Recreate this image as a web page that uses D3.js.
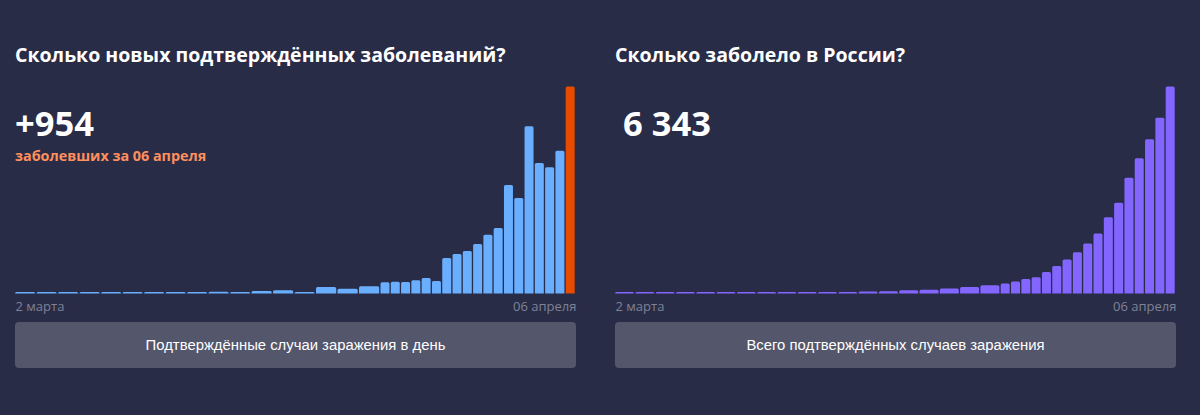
<!DOCTYPE html>
<html>
<head>
<meta charset="utf-8">
<script src="https://cdnjs.cloudflare.com/ajax/libs/d3/7.8.5/d3.min.js"></script>
<style>
	html, body { margin: 0; padding: 0; background: #282c47; overflow: hidden; }
	text { font-family: "Open Sans", sans-serif; }
</style>
</head>
<body>
<script>
// values, 2 march - 6 april
var dailyNew = [1, 0, 0, 1, 6, 4, 3, 0, 3, 8, 6, 11, 14, 4, 30, 21, 33, 52, 54, 53, 61, 71, 57, 163, 182, 196, 228, 270, 302, 500, 440, 771, 601, 582, 658, 954];
var totalCases = [3, 3, 3, 4, 10, 14, 17, 17, 20, 28, 34, 45, 59, 63, 93, 114, 147, 199, 253, 306, 367, 438, 495, 658, 840, 1036, 1264, 1534, 1836, 2337, 2777, 3548, 4149, 4731, 5389, 6343];
var tickLabels = ["2 марта", "06 апреля"];
var titles = ["Сколько новых подтверждённых заболеваний?", "Сколько заболело в России?"];
var bigNumbers = ["+954", "6 343"];
var subtitle = "заболевших за 06 апреля";
var buttons = ["Подтверждённые случаи заражения в день", "Всего подтверждённых случаев заражения"];

var w = 1200, h = 415,
	base = 293.4, top_ = 86.6, gap = 1.3;

var svg = d3.select("body")
			.append("svg")
			.attr("width", w)
			.attr("height", h)
			.style("display", "block");

// bars before the break are about twice as wide as the later ones
function drawPanel(o) {
	var g = svg.append("g");

	var x = d3.scaleLinear()
			  .domain([0, o.wideDays, o.values.length])
			  .range([o.left, o.breakX, o.left + 561]);
	var y = d3.scaleLinear()
			  .domain([0, d3.max(o.values)])
			  .range([base, top_]);

	g.append("text")
	 .attr("x", o.left)
	 .attr("y", 62)
	 .attr("fill", "#fff")
	 .attr("font-size", "19.5px")
	 .attr("font-weight", 700)
	 .text(o.title);

	g.append("text")
	 .attr("x", o.numberX)
	 .attr("y", 136)
	 .attr("fill", "#fff")
	 .attr("font-size", "34.5px")
	 .attr("font-weight", 700)
	 .text(o.number);

	if (o.sub) {
		g.append("text")
		 .attr("x", o.left)
		 .attr("y", 161)
		 .attr("fill", "#ff8f5c")
		 .attr("font-size", "14.35px")
		 .attr("font-weight", 700)
		 .text(o.sub);
	}

	g.selectAll("path.bar")
	 .data(o.values)
	 .enter()
	 .append("path")
	 .attr("class", "bar")
	 .attr("fill", function(d, i) {
	 	return o.last && i == o.values.length - 1 ? o.last : o.color;
	 })
	 .attr("d", function(d, i) {
	 	var x0 = x(i), x1 = x(i + 1) - gap,
	 		t = Math.min(y(d), base - 1.5),
	 		r = Math.min(1.5, base - t),
	 		p = d3.path();
	 	p.moveTo(x0, base);
	 	p.lineTo(x0, t + r);
	 	p.quadraticCurveTo(x0, t, x0 + r, t);
	 	p.lineTo(x1 - r, t);
	 	p.quadraticCurveTo(x1, t, x1, t + r);
	 	p.lineTo(x1, base);
	 	p.closePath();
	 	return p.toString();
	 });

	var axis = d3.axisBottom(x)
				 .tickValues([0, o.values.length])
				 .tickSize(0)
				 .tickPadding(0)
				 .tickFormat(function(d, i) { return tickLabels[i]; });

	var ax = g.append("g")
			  .attr("transform", "translate(0,300)")
			  .call(axis);
	ax.select(".domain").remove();
	ax.selectAll("text")
	  .attr("fill", "#7f8296")
	  .attr("font-size", "13px")
	  .attr("font-family", "\"Open Sans\", sans-serif")
	  .attr("dy", "11px")
	  .attr("text-anchor", function(d, i) { return i == 0 ? "start" : "end"; });

	g.append("rect")
	 .attr("x", o.left)
	 .attr("y", 322)
	 .attr("width", 561)
	 .attr("height", 46)
	 .attr("rx", 4)
	 .attr("fill", "#54566c");

	g.append("text")
	 .attr("x", o.left + 280.5)
	 .attr("y", 350)
	 .attr("fill", "#fff")
	 .attr("font-size", "14.85px")
	 .attr("text-anchor", "middle")
	 .style("font-family", "\"Liberation Sans\", Arial, sans-serif")
	 .text(o.button);
}

drawPanel({
	left: 15, breakX: 380.5, wideDays: 17, numberX: 15,
	values: dailyNew, color: "#69aeff", last: "#e64b00",
	title: titles[0], number: bigNumbers[0], sub: subtitle, button: buttons[0]
});

drawPanel({
	left: 615, breakX: 1000.7, wideDays: 19, numberX: 623,
	values: totalCases, color: "#8266ff",
	title: titles[1], number: bigNumbers[1], button: buttons[1]
});
</script>
</body>
</html>
